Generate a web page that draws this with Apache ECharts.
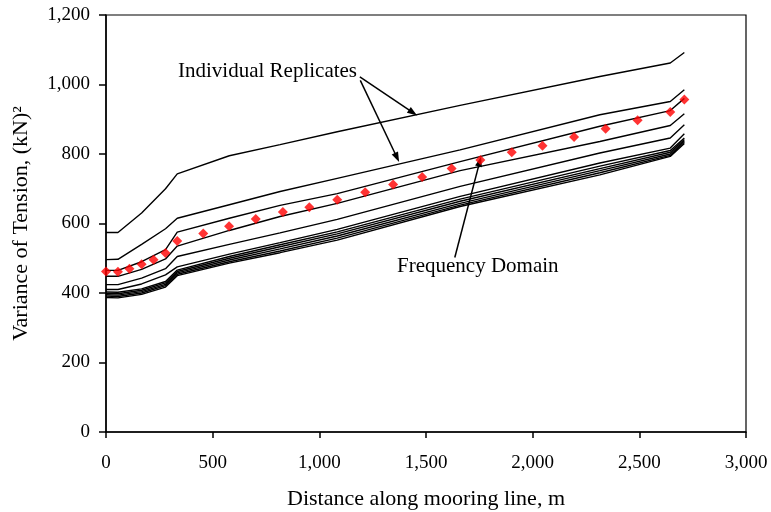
<!DOCTYPE html>
<html><head><meta charset="utf-8">
<script src="https://cdn.jsdelivr.net/npm/echarts@6/dist/echarts.min.js"></script>
<style>html,body{margin:0;padding:0;background:#fff}#c{width:771px;height:512px}</style>
</head><body><div id="c"></div>
<script>
// Distance along mooring line (m) at which replicate curves are read
const nodeX = [0, 56, 167, 279, 334, 578, 816, 1084, 1660, 2315, 2645, 2711];
// Individual replicates, variance of tension (kN^2)
const rep1  = [574, 574, 630, 700, 743, 795, 827, 864, 940, 1023, 1062, 1092];
const rep2  = [496, 497, 540, 585, 615, 654, 692, 730, 812, 913, 951, 985];
const rep3  = [465, 465, 490, 525, 575, 615, 652, 686, 778, 880, 925, 960];
const rep4  = [448, 448, 468, 498, 535, 580, 620, 658, 752, 836, 882, 916];
const rep5  = [424, 424, 443, 470, 505, 540, 573, 612, 707, 803, 846, 884];
const rep6  = [410, 410, 426, 452, 475, 512, 545, 583, 678, 774, 817, 858];
const rep7  = [403, 402, 412, 433, 466, 505, 539, 576, 670, 765, 810, 846];
const rep8  = [399, 398, 408, 429, 462, 500, 533, 570, 664, 758, 805, 842];
const rep9  = [395, 394, 404, 425, 458, 495, 527, 564, 658, 752, 800, 838];
const rep10 = [391, 390, 400, 421, 454, 490, 521, 558, 653, 746, 796, 834];
const rep11 = [387, 386, 396, 417, 450, 486, 516, 552, 649, 740, 793, 830];
const replicates = [rep1, rep2, rep3, rep4, rep5, rep6, rep7, rep8, rep9, rep10, rep11];
// Frequency domain result
const fdX = [0, 56, 110, 167, 223, 279, 334, 456, 577, 702, 829, 953, 1084, 1215, 1346, 1482, 1620, 1755, 1902, 2046, 2194, 2342, 2492, 2645, 2711];
const fdY = [462, 461, 470, 483, 496, 515, 550, 571, 592, 613, 633, 647, 668, 690, 712, 734, 758, 783, 805, 824, 849, 873, 897, 921, 957];
const xTicks = [0, 500, 1000, 1500, 2000, 2500, 3000];
const yTicks = [0, 200, 400, 600, 800, 1000, 1200];
// annotation arrows [from, to] in data units
const arrowReplicates = [[[1190, 1022], [1439, 919]], [[1192, 1012], [1364, 790]]];
const arrowFD = [[[1635, 502], [1752, 778]]];

const FONT = 'Liberation Serif';
const fmt = v => v.toLocaleString('en-US');
const chart = echarts.init(document.getElementById('c'), null, {renderer: 'canvas'});
const series = replicates.map((r, i) => ({
  type: 'line', name: 'rep' + (i + 1), data: nodeX.map((x, j) => [x, r[j]]),
  showSymbol: false, symbol: 'none', lineStyle: {color: '#000', width: 1.4}, silent: true, z: 2
}));
series.push({
  type: 'scatter', name: 'Frequency Domain', data: fdX.map((x, j) => [x, fdY[j]]),
  symbol: 'path://M0,-1L1,0L0,1L-1,0Z', symbolSize: 10, itemStyle: {color: '#ff0000'}, z: 5
});
const arrowSeries = (pairs) => ({
  type: 'line', data: [], silent: true,
  markLine: {
    silent: true, symbol: ['none', 'triangle'], symbolSize: [7, 10], animation: false,
    lineStyle: {color: '#000', width: 1.5, type: 'solid'}, label: {show: false},
    data: pairs.map(p => [{coord: p[0]}, {coord: p[1]}])
  }
});
series.push(arrowSeries(arrowReplicates));
series.push(arrowSeries(arrowFD));

chart.setOption({
  animation: false,
  grid: {left: 106, right: 25, top: 15, bottom: 80, containLabel: false, outerBoundsMode: 'none',
         show: true, borderColor: '#000', borderWidth: 1.2, backgroundColor: '#fff'},
  xAxis: {
    type: 'value', min: 0, max: 3000, interval: 500,
    name: 'Distance along mooring line, m', nameLocation: 'middle', nameGap: 56,
    nameTextStyle: {fontFamily: FONT, fontSize: 22, color: '#000'},
    axisLine: {lineStyle: {color: '#000', width: 1.5}},
    axisTick: {show: true, inside: false, length: 6, lineStyle: {color: '#000', width: 1.5}},
    axisLabel: {fontFamily: FONT, fontSize: 19, color: '#000', margin: 22, formatter: fmt},
    splitLine: {show: false}
  },
  yAxis: {
    type: 'value', min: 0, max: 1200, interval: 200,
    name: 'Variance of Tension, (kN)²', nameLocation: 'middle', nameGap: 74, nameRotate: 90,
    nameTextStyle: {fontFamily: FONT, fontSize: 22, color: '#000'},
    axisLine: {lineStyle: {color: '#000', width: 1.5}},
    axisTick: {show: true, inside: false, length: 7, lineStyle: {color: '#000', width: 1.5}},
    axisLabel: {fontFamily: FONT, fontSize: 19, color: '#000', margin: 16, formatter: fmt},
    splitLine: {show: false}
  },
  series: series,
  graphic: [
    {type: 'text', left: 178, top: 61, style: {text: 'Individual Replicates', font: '21px "Liberation Serif"', fill: '#000'}},
    {type: 'text', left: 397, top: 256, style: {text: 'Frequency Domain', font: '21px "Liberation Serif"', fill: '#000'}}
  ]
});
</script></body></html>
